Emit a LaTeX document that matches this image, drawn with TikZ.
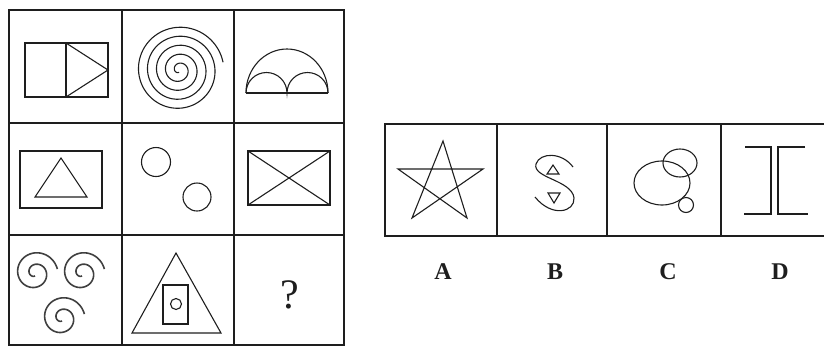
\documentclass[tikz,border=0pt]{standalone}
\usepackage{fontspec}
\setmainfont{Liberation Serif}
\usepackage{tikz}
\definecolor{ink}{RGB}{30,30,30}
\tikzset{
  frame/.style={draw=ink, line width=2.6pt},
  divider/.style={draw=ink, line width=1.2pt},
  figline/.style={draw=ink, line width=1.1pt},
  curl/.style={draw=ink!85, line width=1.6pt},
  choice/.style={text=ink, font=\fontsize{24}{24}\selectfont\bfseries},
  query/.style={text=ink, font=\fontsize{42}{42}\selectfont}
}
% #1 style, #2,#3 centre, #4 px per turn, #5 end angle
\newcommand{\spiralat}[5]{\draw[#1] plot[domain=90:#5, samples=200, smooth]
  ({#2+#4*\x/360*cos(\x)}, {#3+#4*\x/360*sin(\x)});}

\begin{document}
\begin{tikzpicture}[x=1pt, y=-1pt]
  \useasboundingbox (0,0) rectangle (824,349);
  \clip (0,0) rectangle (824,349);

  % question grid
  \draw[divider] (122,10) -- (122,345); \draw[divider] (234,10) -- (234,345);
  \draw[frame] (9,123) -- (344,123); \draw[frame] (9,235) -- (344,235);
  \draw[frame] (9,10) rectangle (344,345);

  % row 1
  \draw[figline] (25,43) rectangle (108,97); \draw[figline] (66,43) -- (66,97);
  \draw[figline] (66,43) -- (108,70) -- (66,97);
  \spiralat{figline}{179}{70}{9}{1790}
  \draw[figline] (246,93) -- (328,93);
  \draw[figline] (246,93) arc[start angle=180, end angle=360, x radius=41, y radius=44];
  \draw[figline] (246,93) arc[start angle=180, end angle=360, radius=20.5]
                          arc[start angle=180, end angle=360, radius=20.5];

  % row 2
  \draw[figline] (20,151) rectangle (102,208);
  \draw[figline] (61,158) -- (87,197) -- (35,197) -- cycle;
  \draw[figline] (156,162) circle[radius=14.5];
  \draw[figline] (197,197) circle[radius=14];
  \draw[figline] (248,151) rectangle (330,205);
  \draw[figline] (248,151) -- (330,205); \draw[figline] (248,205) -- (330,151);

  % row 3
  \spiralat{curl}{35}{273}{11.5}{710}
  \spiralat{curl}{82}{273}{11.5}{710}
  \spiralat{curl}{62}{318}{11.5}{710}
  \draw[figline] (176,253) -- (221,333) -- (132,333) -- cycle;
  \draw[figline] (163,285) rectangle (188,324);
  \draw[figline] (176,304) circle[radius=5.5];
  \node[query] (qmark) at (290,295) {?};

  % answer strip
  \draw[divider] (497,124) -- (497,236); \draw[divider] (607,124) -- (607,236);
  \draw[divider] (721,124) -- (721,236);
  \draw[frame] (385,124) rectangle (840,236);

  % A
  \draw[figline] (443,141) -- (412,218) -- (483,169) -- (398,169) -- (467,218) -- cycle;
  % B
  \draw[figline] (573,167) .. controls (562,152) and (540,152) .. (536,164)
    .. controls (532,178) and (572,180) .. (574,198)
    .. controls (575,212) and (552,218) .. (535,197);
  \draw[figline] (553,165) -- (559,174) -- (547,174) -- cycle;
  \draw[figline] (548,193) -- (560,193) -- (554,203) -- cycle;
  % C
  \draw[figline] (662,183) ellipse[x radius=28, y radius=22];
  \draw[figline] (680,163) ellipse[x radius=17, y radius=14];
  \draw[figline] (686,205) circle[radius=7.5];
  % D
  \draw[figline] (745,147) -- (771,147) -- (771,214) -- (744,214);
  \draw[figline] (805,147) -- (778,147) -- (778,214) -- (808,214);

  \node[choice] (labA) at (443,272) {A};
  \node[choice] (labB) at (555,272) {B};
  \node[choice] (labC) at (668,272) {C};
  \node[choice] (labD) at (780,272) {D};
\end{tikzpicture}
\end{document}
